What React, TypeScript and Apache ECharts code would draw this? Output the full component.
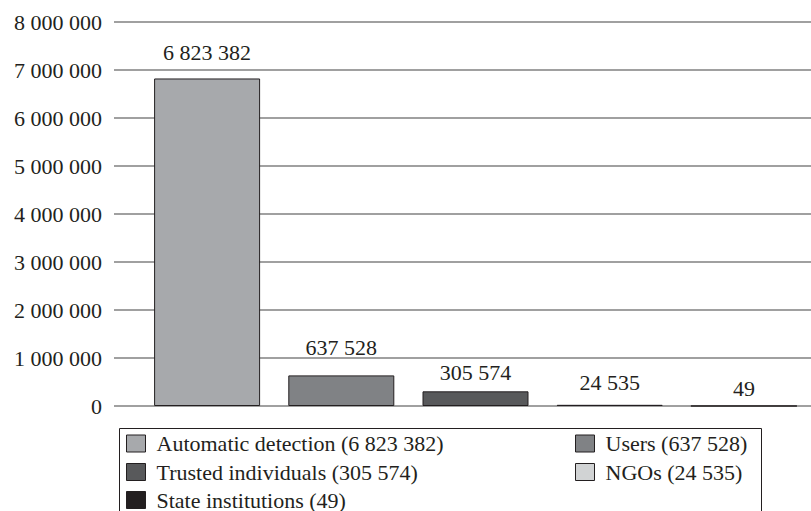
import React, { useEffect, useRef } from "react";
import * as echarts from "echarts";

const categories = [
  "Automatic detection",
  "Users",
  "Trusted individuals",
  "NGOs",
  "State institutions",
];
const values = [6823382, 637528, 305574, 24535, 49];
const colors = ["#a7a9ac", "#808285", "#58595b", "#d1d3d4", "#231f20"];
const labelDistances = [15, 16.5, 8, 11, 6];
const yTicks = [0, 1000000, 2000000, 3000000, 4000000, 5000000, 6000000, 7000000, 8000000];
// legend layout: [category, column x, row center y]
const legendOrder = ["Automatic detection", "Users", "Trusted individuals", "NGOs", "State institutions"];
const legendLeft = [126, 575, 126, 575, 126];
const legendRowCenter = [443.5, 443.5, 472, 472, 500];

const fmt = (v: number) => String(v).replace(/\B(?=(\d{3})+(?!\d))/g, " ");
const FONT = "Liberation Serif";
const FS = 22;
const INK = "#231f20";

export default function App() {
  const ref = useRef<HTMLDivElement>(null);
  useEffect(() => {
    if (!ref.current) return;
    const chart = echarts.init(ref.current, undefined, { renderer: "svg" });
    const fullName = (c: string) => `${c} (${fmt(values[categories.indexOf(c)])})`;
    const series = categories.map((c, i) => ({
      name: fullName(c),
      type: "bar",
      xAxisIndex: 1,
      yAxisIndex: 1,
      barWidth: 106,
      barGap: "-100%",
      data: values.map((v, j) => (j === i ? v : null)),
      itemStyle: { color: colors[i], borderColor: INK, borderWidth: 1 },
      label: {
        show: true,
        position: "top",
        distance: labelDistances[i],
        formatter: (p: any) => fmt(p.value),
        color: INK,
        fontFamily: FONT,
        fontSize: FS,
      },
    }));
    const legends = legendOrder.map((c, k) => ({
      orient: "horizontal",
      padding: 0,
      left: legendLeft[k],
      top: legendRowCenter[k] - 11,
      itemWidth: 19,
      itemHeight: 17,
      icon: "rect",
      itemStyle: { borderColor: INK, borderWidth: 1 },
      textStyle: { color: INK, fontFamily: FONT, fontSize: FS, lineHeight: 22, padding: [0, 0, 0, 6] },
      selectedMode: false,
      data: [fullName(c)],
    }));
    chart.setOption({
      animation: false,
      backgroundColor: "#ffffff",
      textStyle: { fontFamily: FONT },
      grid: [
        { left: 114, right: 0, top: 22, bottom: 105 },
        { left: 140, width: 677, top: 22, bottom: 105 },
      ],
      xAxis: [
        { type: "category", gridIndex: 0, data: categories, show: false },
        { type: "category", gridIndex: 1, data: categories, show: false },
      ],
      yAxis: [
        {
          type: "value",
          gridIndex: 0,
          min: yTicks[0],
          max: yTicks[yTicks.length - 1],
          interval: yTicks[1] - yTicks[0],
          axisLine: { show: false },
          axisTick: { show: false },
          axisLabel: {
            formatter: (v: number) => fmt(v),
            color: INK,
            fontFamily: FONT,
            fontSize: FS,
            margin: 12,
          },
          splitLine: { lineStyle: { color: "#808080", width: 1.5 } },
        },
        {
          type: "value",
          gridIndex: 1,
          min: yTicks[0],
          max: yTicks[yTicks.length - 1],
          interval: yTicks[1] - yTicks[0],
          show: false,
          splitLine: { show: false },
        },
      ],
      legend: legends,
      graphic: [
        {
          type: "rect",
          shape: { x: 119.5, y: 428.5, width: 642, height: 100 },
          style: { fill: "none", stroke: INK, lineWidth: 1 },
          z: 0,
        },
      ],
      series,
    });
    return () => chart.dispose();
  }, []);
  return <div ref={ref} style={{ width: 811, height: 511, position: "absolute", left: 0, top: 0 }} />;
}
